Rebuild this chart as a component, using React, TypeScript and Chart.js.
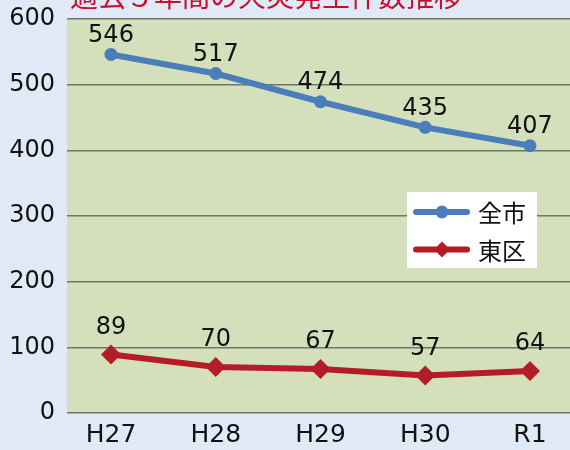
import React, { useEffect, useRef } from "react";
import { Chart, registerables } from "chart.js";

Chart.register(...registerables);

const titleText = "過去５年間の火災発生件数推移";
const categories = ["H27", "H28", "H29", "H30", "R1"];
const seriesNames = ["全市", "東区"];
const cityValues = [546, 517, 474, 435, 407];
const eastValues = [89, 70, 67, 57, 64];
const yTickValues = [0, 100, 200, 300, 400, 500, 600];

const BLUE = "#4b7dbb";
const RED = "#b41c27";
const NUM_FONT = '"DejaVu Sans", sans-serif';
const NUM_WEIGHT = "normal";
const CJK_FONT = '"Noto Sans CJK JP", sans-serif';

const bgPlugin = {
  id: "bgPlugin",
  beforeDraw(chart: any) {
    const { ctx, chartArea } = chart;
    ctx.save();
    ctx.fillStyle = "#dfeaf6";
    ctx.fillRect(0, 0, chart.width, chart.height);
    ctx.fillStyle = "#d4dfbb";
    ctx.fillRect(chartArea.left, chartArea.top, chartArea.right - chartArea.left, chartArea.bottom - chartArea.top);
    ctx.fillStyle = "#c8102e";
    ctx.font = `28px ${CJK_FONT}`;
    ctx.textAlign = "left";
    ctx.textBaseline = "alphabetic";
    ctx.fillText(titleText, 70, 7);
    ctx.restore();
  },
};

const labelPlugin = {
  id: "labelPlugin",
  afterDatasetsDraw(chart: any) {
    const { ctx } = chart;
    const gaps = [12.5, 21];
    ctx.save();
    ctx.fillStyle = "#111";
    ctx.font = `${NUM_WEIGHT} 24px ${NUM_FONT}`;
    ctx.textAlign = "center";
    ctx.textBaseline = "alphabetic";
    chart.data.datasets.forEach((ds: any, di: number) => {
      const meta = chart.getDatasetMeta(di);
      meta.data.forEach((pt: any, i: number) => {
        ctx.fillText(String(ds.data[i].y), pt.x, pt.y - gaps[di]);
      });
    });
    // legend
    const lx = chart.chartArea.left + 340;
    const ly = chart.chartArea.top + 173;
    ctx.fillStyle = "#ffffff";
    ctx.fillRect(lx, ly, 130, 76);
    chart.data.datasets.forEach((ds: any, di: number) => {
      const y = ly + 20 + di * 37.5;
      ctx.strokeStyle = ds.borderColor;
      ctx.lineWidth = 6;
      ctx.lineCap = "round";
      ctx.beginPath();
      ctx.moveTo(lx + 9, y);
      ctx.lineTo(lx + 60, y);
      ctx.stroke();
      ctx.fillStyle = ds.borderColor;
      ctx.beginPath();
      if (di === 0) {
        ctx.arc(lx + 35, y, 6.5, 0, Math.PI * 2);
      } else {
        ctx.moveTo(lx + 35, y - 8);
        ctx.lineTo(lx + 43, y);
        ctx.lineTo(lx + 35, y + 8);
        ctx.lineTo(lx + 27, y);
        ctx.closePath();
      }
      ctx.fill();
      ctx.fillStyle = "#111";
      ctx.font = `24px ${CJK_FONT}`;
      ctx.textAlign = "left";
      ctx.textBaseline = "middle";
      ctx.fillText(ds.label, lx + 71, y + 1);
    });
    ctx.restore();
  },
};

const zeroPadding = (scale: any) => {
  scale.paddingTop = 0;
  scale.paddingBottom = 0;
  scale.paddingLeft = 0;
  scale.paddingRight = 0;
};

export default function App() {
  const ref = useRef<HTMLCanvasElement>(null);
  useEffect(() => {
    document.body.style.margin = "0";
    const chart = new Chart(ref.current as HTMLCanvasElement, {
      type: "line",
      data: {
        datasets: [
          {
            label: seriesNames[0],
            data: cityValues.map((v, i) => ({ x: i, y: v })),
            borderColor: BLUE,
            backgroundColor: BLUE,
            borderWidth: 6,
            pointStyle: "circle",
            pointRadius: 6.5,
            pointBorderWidth: 0,
            tension: 0,
          },
          {
            label: seriesNames[1],
            data: eastValues.map((v, i) => ({ x: i, y: v })),
            borderColor: RED,
            backgroundColor: RED,
            borderWidth: 6,
            pointStyle: "rectRot",
            pointRadius: 10,
            pointBorderWidth: 0,
            tension: 0,
          },
        ],
      },
      options: {
        animation: false,
        responsive: false,
        layout: { autoPadding: false, padding: { top: 19, right: 0, left: 0, bottom: 0 } },
        plugins: { legend: { display: false }, tooltip: { enabled: false } },
        scales: {
          x: {
            type: "linear",
            min: -0.42,
            max: 4.382,
            afterBuildTicks: (scale: any) => {
              scale.ticks = categories.map((_, i) => ({ value: i }));
            },
            afterFit: (scale: any) => {
              scale.height = 37;
              zeroPadding(scale);
            },
            grid: { display: false, drawTicks: false },
            border: { display: false },
            ticks: {
              autoSkip: false,
              maxRotation: 0,
              padding: 7,
              color: "#111",
              font: { family: NUM_FONT, size: 25, weight: NUM_WEIGHT },
              callback: (v: any) => categories[v] ?? "",
            },
          },
          y: {
            min: 0,
            max: 600,
            afterBuildTicks: (scale: any) => {
              scale.ticks = yTickValues.map((v) => ({ value: v }));
            },
            afterFit: (scale: any) => {
              scale.width = 67;
              zeroPadding(scale);
            },
            grid: { color: "#6e7666", lineWidth: 1.5, drawTicks: false },
            border: { display: false },
            ticks: {
              padding: 12,
              color: "#111",
              font: { family: NUM_FONT, size: 24, weight: NUM_WEIGHT },
            },
          },
        },
      },
      plugins: [bgPlugin, labelPlugin],
    });
    return () => chart.destroy();
  }, []);
  return (
    <div style={{ width: 570, height: 450 }}>
      <canvas ref={ref} width={570} height={450} style={{ display: "block" }} />
    </div>
  );
}
